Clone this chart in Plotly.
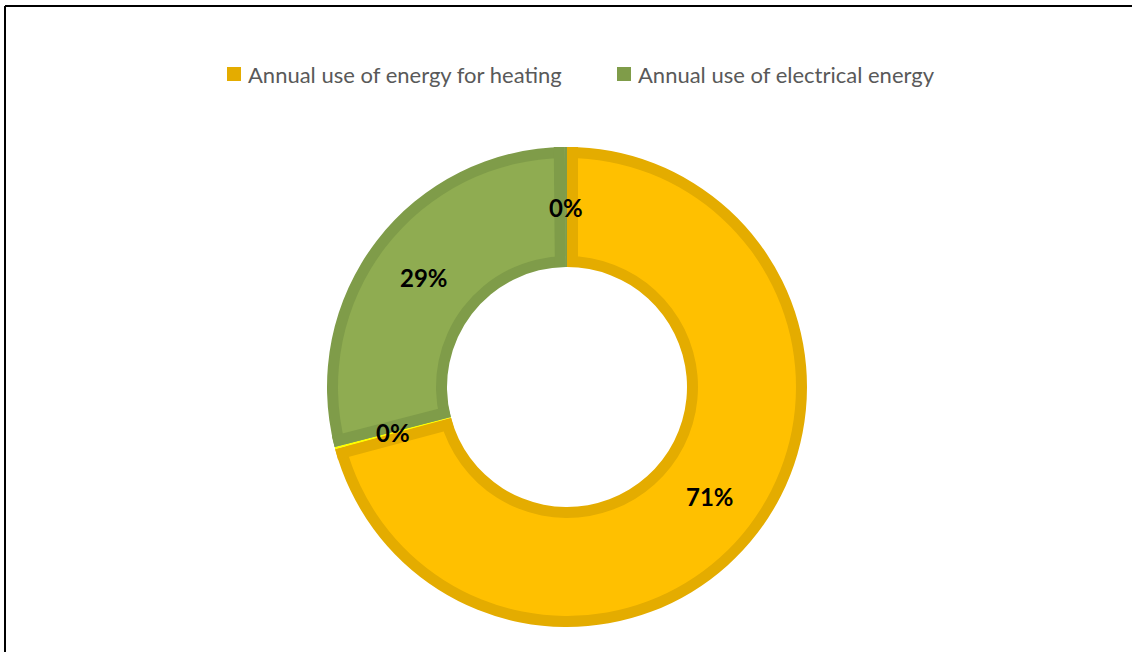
import math
import plotly.graph_objects as go

# ---- data ----
labels = ["Annual use of energy for heating", "Other (heating side)",
          "Annual use of electrical energy", "Other (electrical side)"]
values = [70.9, 0.15, 28.9, 0.15]
legend_names = ["Annual use of energy for heating", "Annual use of electrical energy"]

# ---- styles ----
fill_colors = ["#FFC000", "#FFFF00", "#8FAC51", "#7F9C49"]
edge_colors = ["#E4AC00", "#FFFF00", "#7F9C49", "#7F9C49"]
legend_colors = ["#E4AC00", "#7F9C49"]

W, H = 1132, 652
cx, cy = 567, 387          # donut centre (px)
R_out, R_in = 240, 120     # outer / inner radius (px)
band = 11                  # border band width (px)


def px(x):
    return x / W


def py(y):
    return 1 - y / H


def dom(r):
    return dict(x=[px(cx - r), px(cx + r)], y=[py(cy + r), py(cy - r)])


fig = go.Figure()
# dark border layer (full ring)
fig.add_trace(go.Pie(
    labels=labels, values=values, sort=False, direction="clockwise", rotation=0,
    hole=R_in / R_out, marker=dict(colors=edge_colors, line=dict(width=0)),
    textinfo="none", showlegend=False, hoverinfo="skip", domain=dom(R_out)))
# lighter fill layer (inset ring)
Rf_out, Rf_in = R_out - band, R_in + band
fig.add_trace(go.Pie(
    labels=labels, values=values, sort=False, direction="clockwise", rotation=0,
    hole=Rf_in / Rf_out, marker=dict(colors=fill_colors, line=dict(width=0)),
    textinfo="none", showlegend=False, hoverinfo="skip", domain=dom(Rf_out)))

shapes = []
annotations = []
total = sum(values)
cum = 0.0
for v, ec in zip(values, edge_colors):
    s = 2 * math.pi * cum / total
    e = 2 * math.pi * (cum + v) / total
    m = (s + e) / 2
    # percentage label at mid-ring
    rm = (R_out + R_in) / 2
    annotations.append(dict(
        x=px(cx + rm * math.sin(m)), y=py(cy - rm * math.cos(m)), xref="paper", yref="paper",
        text=f"{round(100 * v / total)}%", showarrow=False, xanchor="center", yanchor="middle",
        font=dict(family="Lato", size=24, color="black", weight="bold")))
    # radial border bands inside the slice (only for slices wide enough)
    if (e - s) * R_in > 2 * band:
        for ang, sign in ((s, 1), (e, -1)):
            ux, uy = math.sin(ang), -math.cos(ang)
            nx, ny = math.cos(ang), math.sin(ang)
            off = sign * band / 2
            shapes.append(dict(
                type="line", xref="paper", yref="paper",
                x0=px(cx + R_in * ux + off * nx), y0=py(cy + R_in * uy + off * ny),
                x1=px(cx + R_out * ux + off * nx), y1=py(cy + R_out * uy + off * ny),
                line=dict(color=ec, width=band)))
    cum += v

# legend (squares + text)
leg_sq_x = [227, 617]
for name, col, x0 in zip(legend_names, legend_colors, leg_sq_x):
    shapes.append(dict(type="rect", xref="paper", yref="paper",
                       x0=px(x0), x1=px(x0 + 14), y0=py(81), y1=py(67),
                       fillcolor=col, line=dict(width=0)))
    annotations.append(dict(x=px(x0 + 19), y=py(74), xref="paper", yref="paper", text=name,
                            showarrow=False, xanchor="left", yanchor="middle",
                            font=dict(family="Lato", size=22, color="#595959")))

# outer frame
shapes += [
    dict(type="line", xref="paper", yref="paper", x0=px(5), x1=1, y0=py(6), y1=py(6),
         line=dict(color="black", width=2)),
    dict(type="line", xref="paper", yref="paper", x0=px(5), x1=px(5), y0=0, y1=py(6),
         line=dict(color="black", width=2)),
]

fig.update_layout(
    width=W, height=H, margin=dict(l=0, r=0, t=0, b=0),
    paper_bgcolor="white", plot_bgcolor="white", showlegend=False,
    shapes=shapes, annotations=annotations,
)
fig.write_html("out.html", config={"displayModeBar": False},
               post_script="document.body.style.margin='0';document.body.style.overflow='hidden';")
